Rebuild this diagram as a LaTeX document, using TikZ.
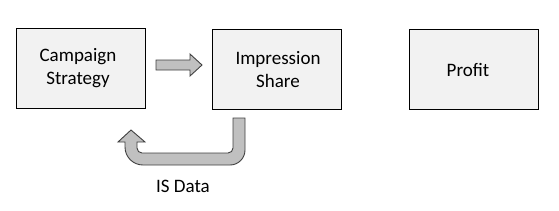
\documentclass[tikz,border=0pt]{standalone}
\usepackage{fontspec}
\setmainfont{Carlito}
\begin{document}
\begin{tikzpicture}[x=1pt,y=-1pt,
  box/.style={draw=black,fill=boxfill,line width=1pt,minimum width=129pt,minimum height=80pt,inner sep=0pt},
  lbl/.style={font=\fontsize{19}{23}\selectfont,align=center,text=black},
  blockarrow/.style={draw=arrowline,fill=arrowfill,line width=0.9pt,line join=miter}]
\definecolor{boxfill}{HTML}{F2F2F2}
\definecolor{arrowfill}{HTML}{C0C0C0}
\definecolor{arrowline}{HTML}{404040}
\useasboundingbox (0,0) rectangle (559,210);
\node[box] (cs) at (80.5,68) {};
\node[box] (is) at (276.5,69) {};
\node[box] (pr) at (473.5,69) {};
\node[lbl] (cst) at (78,68.5) {Campaign\\Strategy};
\node[lbl] (ist) at (278,69.5) {Impression\\Share};
\node[lbl] (prt) at (468,70) {Profit};
\node[lbl] (isd) at (183,186) {IS Data};
% right block arrow
\draw[blockarrow] (156,60) -- (190,60) -- (190,54) -- (202,65) -- (190,76) -- (190,70) -- (156,70) -- cycle;
% U-turn block arrow
\draw[blockarrow] (245,118) [rounded corners=15pt] -- (245,165) [rounded corners=18pt] -- (125,165) [sharp corners] -- (125,142) -- (118,142) -- (131,130) -- (145,142) -- (137,142) [rounded corners=5pt] -- (137,153) -- (233,153) [sharp corners] -- (233,118) -- cycle;
\end{tikzpicture}
\end{document}
